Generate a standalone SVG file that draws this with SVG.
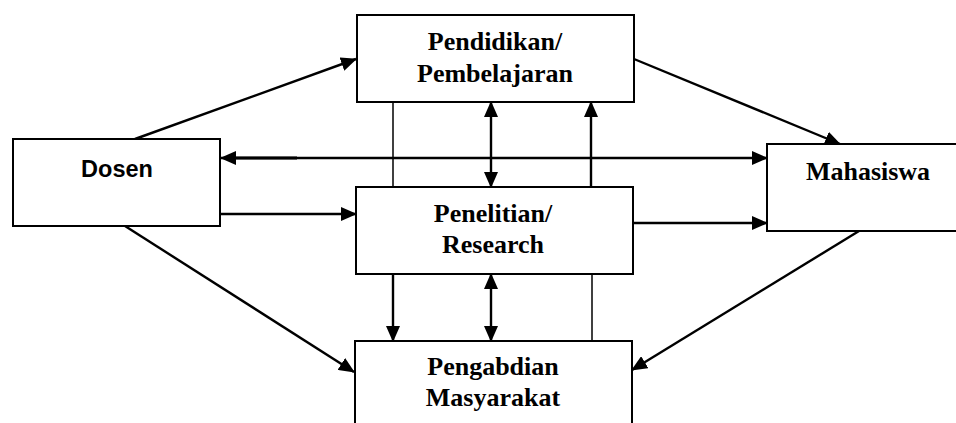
<svg xmlns="http://www.w3.org/2000/svg" width="956" height="423" viewBox="0 0 956 423">
<style>
.box{fill:#fff;stroke:#000;stroke-width:2}
.t{font-family:"Liberation Serif","Times New Roman",serif;font-weight:bold;font-size:26px;fill:#000;text-anchor:middle}
.ts{font-family:"Liberation Sans",Arial,sans-serif;font-weight:bold;font-size:23.5px;fill:#000;text-anchor:middle}
.a{stroke:#000;stroke-width:2.4;fill:none}
.thin{stroke:#000;stroke-width:1.5;fill:none}
</style>
<defs>
<marker id="ah" markerUnits="userSpaceOnUse" markerWidth="16" markerHeight="14" refX="15" refY="7" orient="auto-start-reverse" viewBox="0 0 16 14">
<path d="M0,0 L16,7 L0,14 z" fill="#000"/>
</marker>
</defs>
<rect width="956" height="423" fill="#fff"/>
<g id="connectors">
<path class="a" d="M135,139 L356,59" marker-end="url(#ah)"/>
<path class="a" d="M221,158 L767,158" marker-start="url(#ah)" marker-end="url(#ah)"/>
<path d="M228,158 L297,158" stroke="#000" stroke-width="3.2"/>
<path class="a" d="M220,214 L356,214" marker-end="url(#ah)"/>
<path class="a" d="M125,226 L354,372" marker-end="url(#ah)"/>
<path class="a" d="M634,59 L840,144" marker-end="url(#ah)"/>
<path class="a" d="M633,223 L767,223" marker-end="url(#ah)"/>
<path class="a" d="M859,231 L632,370" marker-end="url(#ah)"/>
<path class="thin" d="M393,102 L393,187"/>
<path class="a" d="M491,102 L491,187" marker-start="url(#ah)" marker-end="url(#ah)"/>
<path class="a" d="M591,187 L591,102" marker-end="url(#ah)"/>
<path class="a" d="M393,274 L393,341" marker-end="url(#ah)"/>
<path class="a" d="M491,274 L491,341" marker-start="url(#ah)" marker-end="url(#ah)"/>
<path class="thin" d="M592,274 L592,341"/>
</g>
<g id="pendidikan">
<rect class="box" x="357" y="15" width="277" height="87"/>
<text class="t" x="495" y="50">Pendidikan/</text>
<text class="t" x="495" y="82">Pembelajaran</text>
</g>
<g id="dosen">
<rect class="box" x="13" y="139" width="207" height="87"/>
<text class="ts" x="117" y="177">Dosen</text>
</g>
<g id="penelitian">
<rect class="box" x="356" y="187" width="277" height="87"/>
<text class="t" x="493" y="222">Penelitian/</text>
<text class="t" x="493" y="253">Research</text>
</g>
<g id="pengabdian">
<rect class="box" x="355" y="341" width="277" height="100"/>
<text class="t" x="493" y="375">Pengabdian</text>
<text class="t" x="493" y="406">Masyarakat</text>
</g>
<g id="mahasiswa">
<rect class="box" x="767" y="144" width="200" height="87"/>
<text class="t" x="868" y="180">Mahasiswa</text>
</g>
</svg>
